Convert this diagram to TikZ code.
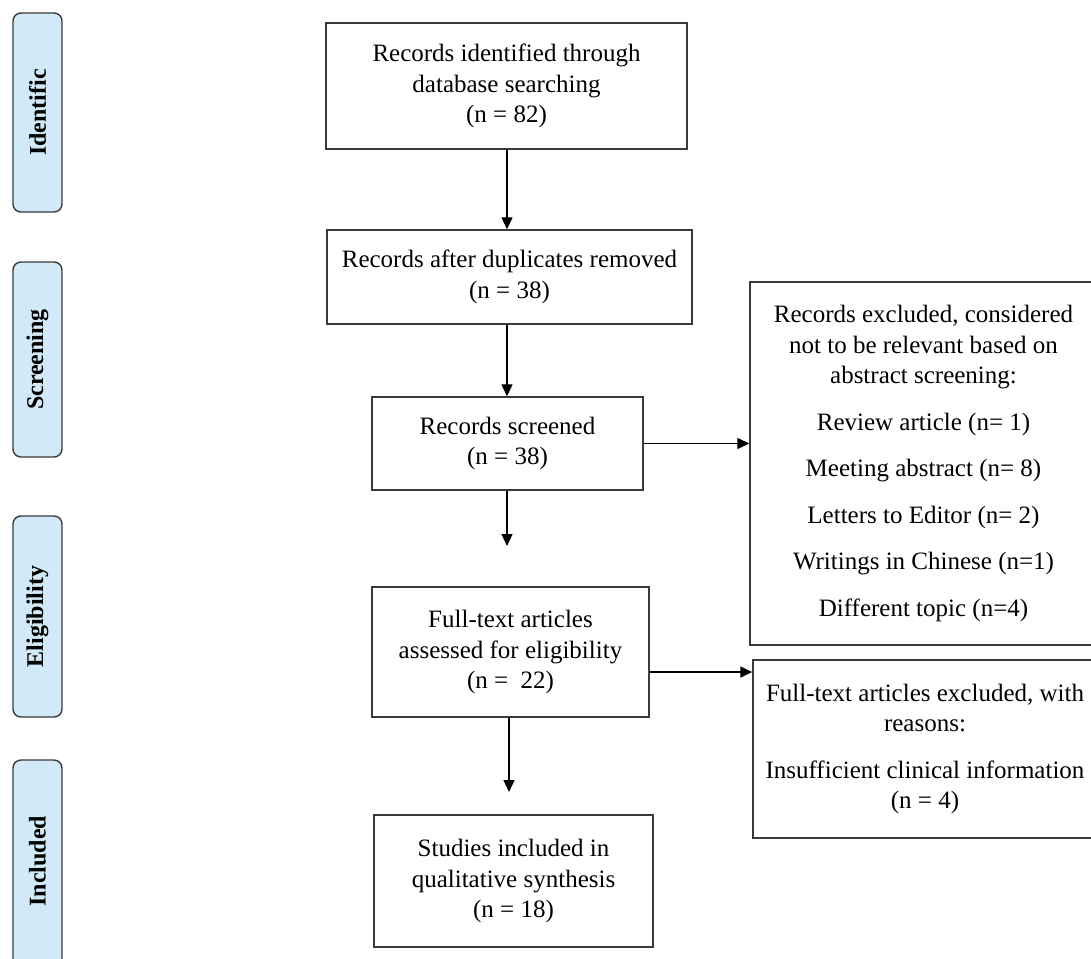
\documentclass[tikz,border=0pt]{standalone}
\usepackage{fontspec}
\setmainfont{Liberation Serif}
\usetikzlibrary{arrows.meta}
\definecolor{phaseblue}{HTML}{D2EAF7}
\definecolor{edgegray}{HTML}{3A3A3A}
\begin{document}
\begin{tikzpicture}[x=1pt,y=-1pt,
  box/.style={draw=edgegray,line width=1.4pt,align=center,inner sep=0pt,font=\fontsize{25}{30.5}\selectfont},
  phase/.style={draw=edgegray,line width=1.4pt,rounded corners=8pt,fill=phaseblue,minimum width=49pt,inner sep=0pt},
  phasetext/.style={rotate=90,font=\bfseries\fontsize{24}{26}\selectfont},
  arr/.style={line width=1.2pt,draw=black,-{Triangle[length=12pt,width=11pt]}}]
\useasboundingbox (0,0) rectangle (1091,958);
\clip (0,0) rectangle (1091,958);
\fill[white] (0,0) rectangle (1091,958);

% phase labels
\node[phase,minimum height=199pt] (p1) at (37.5,112.5) {};
\node[phasetext] (t1) at (p1.center) {Identific};
\node[phase,minimum height=195pt] (p2) at (37.5,359.5) {};
\node[phasetext] (t2) at (p2.center) {Screening};
\node[phase,minimum height=201pt] (p3) at (37.5,616.5) {};
\node[phasetext] (t3) at (p3.center) {Eligibility};
\node[phase,minimum height=215pt] (p4) at (37.5,867.5) {};
\node[phasetext] (t4) at (37.5,861) {Included};

% main column
\node[box,minimum width=361pt,minimum height=126pt] (b1) at (506.5,86) {Records identified through\\database searching\\(n = 82)};
\node[box,minimum width=365pt,minimum height=94pt] (b2) at (509.5,277) {Records after duplicates removed\\(n = 38)};
\node[box,minimum width=271pt,minimum height=93pt] (b3) at (507.5,443.5) {Records screened\\(n = 38)};
\node[box,minimum width=277pt,minimum height=130pt] (b4) at (510.5,652) {Full-text articles\\assessed for eligibility\\(n = \ 22)};
\node[box,minimum width=279pt,minimum height=132pt] (b6) at (513.5,881) {Studies included in\\qualitative synthesis\\(n = 18)};

% exclusion boxes
\node[box,minimum width=347pt,minimum height=363pt] (ex1) at (923.5,463.5) {Records excluded, considered\\not to be relevant based on\\abstract screening:\\[16pt]Review article (n= 1)\\[16pt]Meeting abstract (n= 8)\\[16pt]Letters to Editor (n= 2)\\[16pt]Writings in Chinese (n=1)\\[16pt]Different topic (n=4)};
\node[box,minimum width=344pt,minimum height=178pt] (ex2) at (925,749) {Full-text articles excluded, with\\reasons:\\[16pt]Insufficient clinical information\\(n = 4)};

% connectors
\coordinate (c1) at (507,0);
\draw[arr] (b1.south -| c1) -- (b2.north -| c1);
\draw[arr] (b2.south -| c1) -- (b3.north -| c1);
\coordinate (e3) at (507,546);
\draw[arr] (b3.south -| e3) -- (e3);
\coordinate (e4) at (509,792);
\draw[arr] (b4.south -| e4) -- (e4);
\draw[arr] (b3.east) -- (ex1.west |- b3.east);
\coordinate (h4) at (0,672);
\draw[arr] (b4.east |- h4) -- (ex2.west |- h4);
\end{tikzpicture}
\end{document}
